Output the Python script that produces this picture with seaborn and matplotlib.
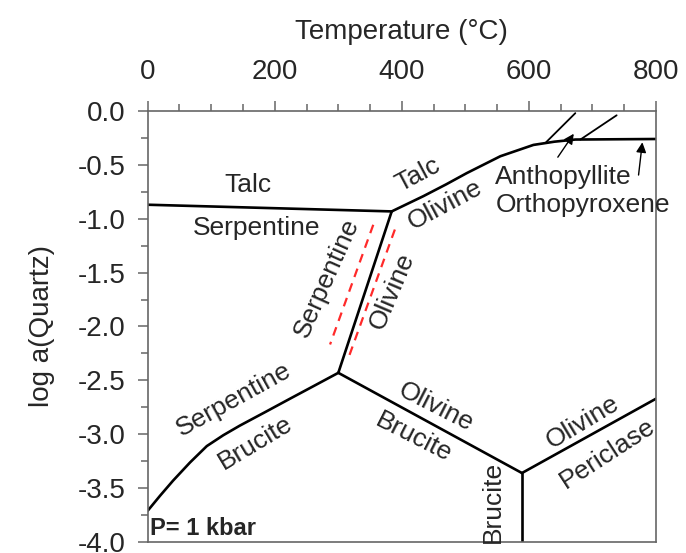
import numpy as np
import pandas as pd
import matplotlib
matplotlib.use("Agg")
import matplotlib.pyplot as plt
from matplotlib.ticker import MultipleLocator, FormatStrFormatter
import seaborn as sns

# phase boundaries (T in degC, log a(Quartz))
talc_serp_T = [0, 384]
talc_serp_y = [-0.87, -0.932]
talc_ol_T = [384, 434, 470, 502, 555, 607, 640, 673, 800]
talc_ol_y = [-0.932, -0.79, -0.68, -0.577, -0.42, -0.315, -0.285, -0.265, -0.26]
serp_ol_T = [300, 384]
serp_ol_y = [-2.43, -0.932]
serp_bru_T = [0, 19.4, 40, 66.6, 93, 119, 145, 184.7, 224, 260.8, 300]
serp_bru_y = [-3.71, -3.571, -3.43, -3.262, -3.11, -3.009, -2.92, -2.795, -2.67, -2.554, -2.43]
ol_bru_T = [300, 589]
ol_bru_y = [-2.43, -3.36]
bru_per_T = [589, 589]
bru_per_y = [-3.36, -4.0]
ol_per_T = [589, 800]
ol_per_y = [-3.36, -2.67]
anth1_T = [627, 673]
anth1_y = [-0.29, -0.02]
anth2_T = [681, 738]
anth2_y = [-0.265, -0.04]

# red dashed bounds
red_left_T = [355, 287]
red_left_y = [-1.056, -2.167]
red_right_T = [389, 316]
red_right_y = [-1.10, -2.29]

segments = {
    "talc_serp": (talc_serp_T, talc_serp_y),
    "talc_ol": (talc_ol_T, talc_ol_y),
    "serp_ol": (serp_ol_T, serp_ol_y),
    "serp_bru": (serp_bru_T, serp_bru_y),
    "ol_bru": (ol_bru_T, ol_bru_y),
    "bru_per": (bru_per_T, bru_per_y),
    "ol_per": (ol_per_T, ol_per_y),
}
thin_segments = {
    "anth1": (anth1_T, anth1_y),
    "anth2": (anth2_T, anth2_y),
}
red_segments = {
    "left": (red_left_T, red_left_y),
    "right": (red_right_T, red_right_y),
}


def to_frame(segs):
    rows = []
    for name, (xs, ys) in segs.items():
        for i, (x, y) in enumerate(zip(xs, ys)):
            rows.append({"seg": name, "order": i, "T": x, "logaq": y})
    return pd.DataFrame(rows)


df = to_frame(segments)
df_thin = to_frame(thin_segments)
df_red = to_frame(red_segments)

sns.set_style("ticks")
plt.rcParams["font.family"] = ["Liberation Sans", "DejaVu Sans"]
plt.rcParams["axes.unicode_minus"] = False

fig = plt.figure(figsize=(6.86, 5.53), dpi=100)
ax = fig.add_axes([0.2153, 0.0199, 0.741, 0.7794])

sns.lineplot(data=df, x="T", y="logaq", units="seg", estimator=None, sort=False,
             color="black", linewidth=1.9, ax=ax)
sns.lineplot(data=df_thin, x="T", y="logaq", units="seg", estimator=None, sort=False,
             color="black", linewidth=1.3, ax=ax)
n_before = len(ax.lines)
sns.lineplot(data=df_red, x="T", y="logaq", units="seg", estimator=None, sort=False,
             color="#ff2a2a", linewidth=1.6, ax=ax)
for line in ax.lines[n_before:]:
    line.set_linestyle((0, (4, 3)))
for line in ax.lines:
    line.set_solid_joinstyle("round")

ax.set_xlim(0, 800)
ax.set_ylim(-4.0, 0.0)
ax.xaxis.set_major_locator(MultipleLocator(200))
ax.xaxis.set_minor_locator(MultipleLocator(50))
ax.yaxis.set_major_locator(MultipleLocator(0.5))
ax.yaxis.set_minor_locator(MultipleLocator(0.25))
ax.yaxis.set_major_formatter(FormatStrFormatter("%.1f"))
ax.xaxis.tick_top()
ax.xaxis.set_label_position("top")
ax.tick_params(axis="both", which="major", labelsize=20, length=7, width=1.1, color="#666666")
ax.tick_params(axis="both", which="minor", length=5, width=1.1, color="#666666")
ax.tick_params(axis="x", which="major", pad=12)
ax.tick_params(axis="y", which="major", pad=9)
ax.set_xlabel("Temperature (°C)", fontsize=20, labelpad=14)
ax.set_ylabel("log a(Quartz)", fontsize=20, labelpad=16)
for sp in ax.spines.values():
    sp.set_visible(True)
    sp.set_color("#666666")
    sp.set_linewidth(1.2)

fs = 19
ax.text(158, -0.685, "Talc", fontsize=fs, ha="center", va="center")
ax.text(171.5, -1.086, "Serpentine", fontsize=fs, ha="center", va="center")
ax.text(426, -0.593, "Talc", fontsize=fs, ha="center", va="center", rotation=28)
ax.text(468, -0.87, "Olivine", fontsize=fs, ha="center", va="center", rotation=28)
ax.text(547, -0.61, "Anthopyllite", fontsize=fs, ha="left", va="center")
ax.text(547, -0.87, "Orthopyroxene", fontsize=fs, ha="left", va="center")
ax.text(282, -1.55, "Serpentine", fontsize=fs, ha="center", va="center", rotation=66)
ax.text(385, -1.673, "Olivine", fontsize=fs, ha="center", va="center", rotation=67)
ax.text(135, -2.68, "Serpentine", fontsize=fs, ha="center", va="center", rotation=29)
ax.text(169, -3.08, "Brucite", fontsize=fs, ha="center", va="center", rotation=31)
ax.text(454, -2.75, "Olivine", fontsize=fs, ha="center", va="center", rotation=-27)
ax.text(419, -3.03, "Brucite", fontsize=fs, ha="center", va="center", rotation=-27)
ax.text(544, -3.63, "Brucite", fontsize=fs, ha="center", va="center", rotation=90)
ax.text(684, -2.886, "Olivine", fontsize=fs, ha="center", va="center", rotation=31)
ax.text(723, -3.18, "Periclase", fontsize=fs, ha="center", va="center", rotation=33)
ax.text(4, -3.985, "P= 1 kbar", fontsize=17, fontweight="bold", ha="left", va="bottom")

arrow = dict(arrowstyle="-|>", color="black", lw=1, mutation_scale=15)
ax.annotate("", xy=(673, -0.19), xytext=(643, -0.45), arrowprops=arrow)
ax.annotate("", xy=(779, -0.265), xytext=(772, -0.62), arrowprops=arrow)

fig.savefig("out.png", dpi=100)
